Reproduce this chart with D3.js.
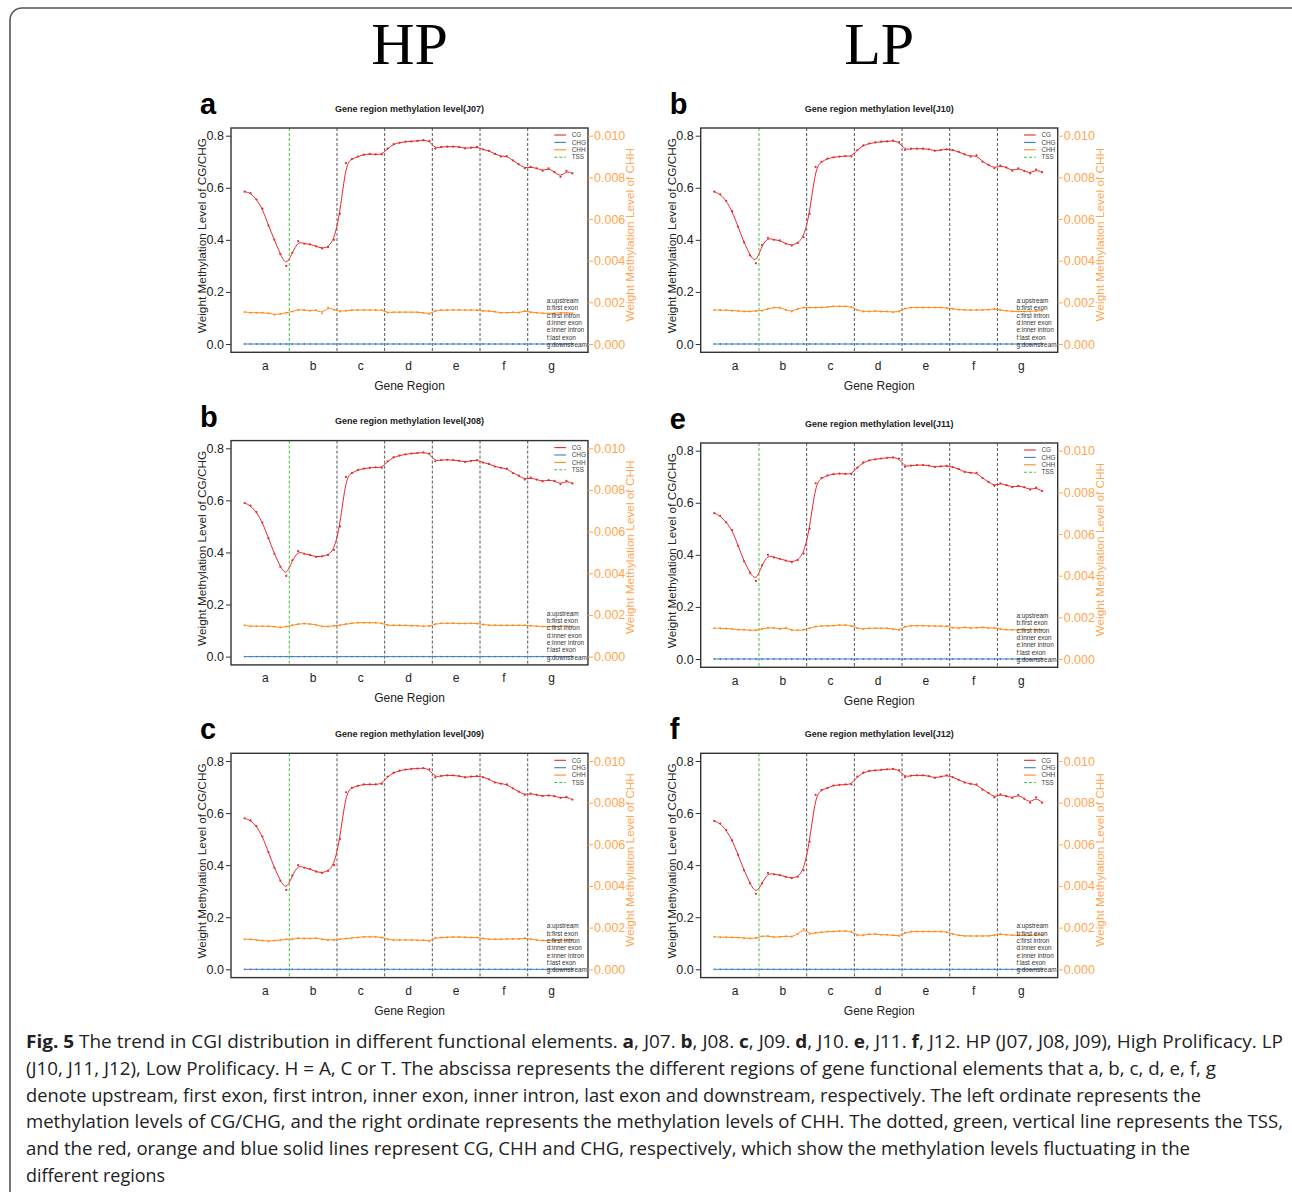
<!DOCTYPE html>
<html>
<head>
<meta charset="utf-8">
<script src="https://cdn.jsdelivr.net/npm/d3@7"></script>
<style>
  body { margin: 0; background: #fff; }
</style>
</head>
<body>
<svg id="fig" width="1292" height="1192"></svg>
<script>
// Region labels and notes
var regions = ["a", "b", "c", "d", "e", "f", "g"];
var regionNotes = ["a:upstream", "b:first exon", "c:first intron", "d:inner exon", "e:inner intron", "f:last exon", "g:downstream"];
var legendNames = ["CG", "CHG", "CHH", "TSS"];
var leftTicks = [0, 0.2, 0.4, 0.6, 0.8];
var rightTicks = [0, 0.002, 0.004, 0.006, 0.008, 0.010];
var groupTitles = ["HP", "LP"];

// CG level, 8 points per region a..g
var cgJ07 = [0.585, 0.58, 0.555, 0.52, 0.455, 0.40, 0.345, 0.30,
  0.35, 0.395, 0.385, 0.383, 0.375, 0.367, 0.372, 0.40,
  0.50, 0.695, 0.71, 0.72, 0.727, 0.73, 0.728, 0.728,
  0.75, 0.768, 0.773, 0.777, 0.778, 0.78, 0.783, 0.78,
  0.75, 0.757, 0.758, 0.758, 0.757, 0.751, 0.754, 0.757,
  0.747, 0.742, 0.73, 0.72, 0.722, 0.705, 0.69, 0.675,
  0.68, 0.675, 0.665, 0.675, 0.66, 0.642, 0.665, 0.655];
var cgJ08 = [0.59, 0.58, 0.555, 0.515, 0.455, 0.395, 0.345, 0.31,
  0.37, 0.405, 0.395, 0.39, 0.383, 0.385, 0.39, 0.41,
  0.50, 0.69, 0.705, 0.717, 0.722, 0.725, 0.727, 0.725,
  0.75, 0.766, 0.772, 0.777, 0.78, 0.782, 0.784, 0.78,
  0.75, 0.755, 0.756, 0.755, 0.752, 0.747, 0.752, 0.755,
  0.745, 0.74, 0.73, 0.725, 0.722, 0.705, 0.695, 0.68,
  0.687, 0.68, 0.673, 0.678, 0.675, 0.662, 0.675, 0.665];
var cgJ09 = [0.58, 0.572, 0.55, 0.51, 0.45, 0.39, 0.34, 0.305,
  0.36, 0.40, 0.39, 0.385, 0.375, 0.37, 0.378, 0.40,
  0.50, 0.68, 0.697, 0.705, 0.71, 0.71, 0.71, 0.712,
  0.74, 0.755, 0.763, 0.767, 0.77, 0.771, 0.773, 0.768,
  0.737, 0.743, 0.745, 0.745, 0.742, 0.737, 0.74, 0.742,
  0.738, 0.73, 0.717, 0.713, 0.71, 0.695, 0.682, 0.67,
  0.675, 0.67, 0.665, 0.668, 0.665, 0.658, 0.662, 0.652];
var cgJ10 = [0.585, 0.575, 0.55, 0.51, 0.45, 0.39, 0.34, 0.31,
  0.38, 0.408, 0.40, 0.398, 0.385, 0.378, 0.388, 0.41,
  0.50, 0.68, 0.70, 0.712, 0.717, 0.72, 0.722, 0.72,
  0.745, 0.763, 0.77, 0.774, 0.777, 0.778, 0.781, 0.775,
  0.745, 0.75, 0.75, 0.75, 0.748, 0.742, 0.745, 0.748,
  0.745, 0.738, 0.728, 0.72, 0.725, 0.70, 0.688, 0.675,
  0.685, 0.678, 0.665, 0.675, 0.665, 0.655, 0.67, 0.66];
var cgJ11 = [0.56, 0.55, 0.525, 0.495, 0.435, 0.375, 0.33, 0.30,
  0.36, 0.40, 0.39, 0.385, 0.378, 0.372, 0.38, 0.405,
  0.50, 0.675, 0.695, 0.705, 0.71, 0.712, 0.711, 0.71,
  0.735, 0.755, 0.763, 0.767, 0.77, 0.773, 0.774, 0.77,
  0.738, 0.743, 0.745, 0.745, 0.743, 0.737, 0.74, 0.742,
  0.737, 0.73, 0.718, 0.715, 0.715, 0.695, 0.68, 0.665,
  0.675, 0.668, 0.66, 0.665, 0.66, 0.65, 0.658, 0.645];
var cgJ12 = [0.57, 0.56, 0.535, 0.495, 0.44, 0.38, 0.33, 0.29,
  0.33, 0.37, 0.365, 0.362, 0.355, 0.35, 0.355, 0.38,
  0.49, 0.67, 0.688, 0.697, 0.706, 0.708, 0.71, 0.71,
  0.74, 0.755, 0.762, 0.764, 0.766, 0.768, 0.77, 0.765,
  0.738, 0.744, 0.745, 0.745, 0.742, 0.735, 0.74, 0.745,
  0.738, 0.728, 0.717, 0.712, 0.71, 0.69, 0.678, 0.66,
  0.672, 0.665, 0.658, 0.67, 0.655, 0.64, 0.66, 0.64];

// CHH level (right axis)
var chhJ07 = [0.00154, 0.0015, 0.0015, 0.0015, 0.00148, 0.00141, 0.00144, 0.0015,
  0.00156, 0.00165, 0.00163, 0.0016, 0.00163, 0.00148, 0.00175, 0.00165,
  0.00156, 0.0016, 0.00163, 0.00163, 0.00163, 0.00163, 0.00163, 0.00163,
  0.0015, 0.00153, 0.00153, 0.00153, 0.00153, 0.00153, 0.0015, 0.00144,
  0.00159, 0.00163, 0.00163, 0.00163, 0.00163, 0.00163, 0.00163, 0.00163,
  0.00159, 0.00158, 0.00155, 0.0015, 0.0015, 0.00153, 0.0015, 0.00159,
  0.00153, 0.0015, 0.00148, 0.00146, 0.00148, 0.0015, 0.0015, 0.00148];
var chhJ08 = [0.0015, 0.00146, 0.00146, 0.00146, 0.00146, 0.00144, 0.0014, 0.00144,
  0.0015, 0.00156, 0.00159, 0.00156, 0.00153, 0.00144, 0.00144, 0.00148,
  0.0015, 0.00156, 0.0016, 0.00163, 0.00163, 0.00163, 0.00163, 0.0016,
  0.0015, 0.0015, 0.0015, 0.0015, 0.00148, 0.00148, 0.00146, 0.00146,
  0.00156, 0.0016, 0.0016, 0.0016, 0.00159, 0.00159, 0.0016, 0.00159,
  0.00154, 0.0015, 0.0015, 0.0015, 0.0015, 0.0015, 0.0015, 0.0015,
  0.00148, 0.00146, 0.00144, 0.00144, 0.00144, 0.00146, 0.00146, 0.00144];
var chhJ09 = [0.00144, 0.00144, 0.00141, 0.00138, 0.00135, 0.00138, 0.0014, 0.00144,
  0.00144, 0.0015, 0.00148, 0.00148, 0.0015, 0.00144, 0.00141, 0.00141,
  0.00144, 0.00148, 0.0015, 0.00153, 0.00156, 0.00156, 0.00156, 0.00153,
  0.00144, 0.0014, 0.00141, 0.00141, 0.00141, 0.0014, 0.0014, 0.00135,
  0.0015, 0.00153, 0.00154, 0.00155, 0.00155, 0.00154, 0.00153, 0.00153,
  0.00148, 0.00144, 0.00144, 0.00144, 0.00146, 0.00146, 0.00146, 0.0015,
  0.00144, 0.00141, 0.00138, 0.00138, 0.00138, 0.0014, 0.0014, 0.00141];
var chhJ10 = [0.00163, 0.00163, 0.00163, 0.0016, 0.00159, 0.00156, 0.00156, 0.00159,
  0.0016, 0.00169, 0.00175, 0.00175, 0.00163, 0.00156, 0.00169, 0.00175,
  0.00175, 0.00175, 0.00175, 0.00178, 0.00181, 0.00181, 0.00181, 0.00178,
  0.00163, 0.00156, 0.00156, 0.00159, 0.00156, 0.00156, 0.00153, 0.00156,
  0.00171, 0.00175, 0.00175, 0.00175, 0.00175, 0.00175, 0.00175, 0.00173,
  0.00169, 0.00165, 0.00163, 0.00163, 0.00163, 0.00163, 0.00165, 0.00169,
  0.00163, 0.0016, 0.00156, 0.00156, 0.00156, 0.00156, 0.00159, 0.0016];
var chhJ11 = [0.00148, 0.00148, 0.00146, 0.00144, 0.00141, 0.0014, 0.00138, 0.00138,
  0.00144, 0.0015, 0.0015, 0.00144, 0.0015, 0.00138, 0.00138, 0.0014,
  0.00148, 0.00156, 0.00159, 0.00159, 0.0016, 0.00163, 0.00163, 0.0016,
  0.00148, 0.00144, 0.00148, 0.00148, 0.00148, 0.00148, 0.00144, 0.00138,
  0.00156, 0.0016, 0.0016, 0.0016, 0.00159, 0.00158, 0.00158, 0.00158,
  0.0015, 0.00148, 0.00153, 0.00148, 0.0015, 0.00153, 0.00148, 0.0015,
  0.00144, 0.0014, 0.0014, 0.0014, 0.00141, 0.00141, 0.00141, 0.00141];
var chhJ12 = [0.00156, 0.00154, 0.00154, 0.00153, 0.00153, 0.0015, 0.00148, 0.0015,
  0.00159, 0.0016, 0.00154, 0.00156, 0.00159, 0.00156, 0.00169, 0.00194,
  0.00169, 0.00175, 0.00178, 0.00181, 0.00181, 0.00184, 0.00184, 0.00181,
  0.00163, 0.00163, 0.00169, 0.00169, 0.00166, 0.00166, 0.00163, 0.0016,
  0.00175, 0.00181, 0.00181, 0.00181, 0.00181, 0.00181, 0.00181, 0.00179,
  0.00169, 0.00163, 0.0016, 0.0016, 0.0016, 0.0016, 0.0016, 0.00163,
  0.00169, 0.00166, 0.00163, 0.00163, 0.00163, 0.00163, 0.00165, 0.00166];

// CHG level sits on the zero line in every sample
var chgLevel = [0, 0, 0, 0, 0, 0, 0, 0,
  0, 0, 0, 0, 0, 0, 0, 0,
  0, 0, 0, 0, 0, 0, 0, 0,
  0, 0, 0, 0, 0, 0, 0, 0,
  0, 0, 0, 0, 0, 0, 0, 0,
  0, 0, 0, 0, 0, 0, 0, 0,
  0, 0, 0, 0, 0, 0, 0, 0];

var panels = [
  { id: "J07", letter: "a", cg: cgJ07, chh: chhJ07, col: 0, row: 0 },
  { id: "J10", letter: "b", cg: cgJ10, chh: chhJ10, col: 1, row: 0 },
  { id: "J08", letter: "b", cg: cgJ08, chh: chhJ08, col: 0, row: 1 },
  { id: "J11", letter: "e", cg: cgJ11, chh: chhJ11, col: 1, row: 1 },
  { id: "J09", letter: "c", cg: cgJ09, chh: chhJ09, col: 0, row: 2 },
  { id: "J12", letter: "f", cg: cgJ12, chh: chhJ12, col: 1, row: 2 }
];

// Caption lines: [text, bold]
var caption = [
  [["Fig. 5", 1], [" The trend in CGI distribution in different functional elements. ", 0], ["a", 1], [", J07. ", 0], ["b", 1], [", J08. ", 0], ["c", 1], [", J09. ", 0], ["d", 1], [", J10. ", 0], ["e", 1], [", J11. ", 0], ["f", 1], [", J12. HP (J07, J08, J09), High Prolificacy. LP", 0]],
  [["(J10, J11, J12), Low Prolificacy. H = A, C or T. The abscissa represents the different regions of gene functional elements that a, b, c, d, e, f, g", 0]],
  [["denote upstream, first exon, first intron, inner exon, inner intron, last exon and downstream, respectively. The left ordinate represents the", 0]],
  [["methylation levels of CG/CHG, and the right ordinate represents the methylation levels of CHH. The dotted, green, vertical line represents the TSS,", 0]],
  [["and the red, orange and blue solid lines represent CG, CHH and CHG, respectively, which show the methylation levels fluctuating in the", 0]],
  [["different regions", 0]]
];
var captionWidths = [1257, 1190, 1175, 1257, 1164, 139];

// Layout
var colLeft = [231, 700.7];
var rowTop = [135.7, 448.3, 761];
var boxW = 357;
var plotH = 208.3;
var fontAxis = "'Liberation Sans', Arial, sans-serif";

var cgColor = "#e8282b";
var chgColor = "#3d7cc9";
var chhColor = "#ff8a1f";
var chhAxisColor = "#ffa650";
var tssColor = "#3ec43e";
var legendColors = [cgColor, chgColor, chhColor, tssColor];

var svg = d3.select("#fig");

// Outer rounded frame
svg.append("rect")
  .attr("x", 10).attr("y", 8)
  .attr("width", 1300).attr("height", 1220)
  .attr("rx", 12)
  .attr("fill", "none")
  .attr("stroke", "#555")
  .attr("stroke-width", 1.6);

// HP / LP headings
svg.selectAll(".group-title")
  .data(groupTitles)
  .enter()
  .append("text")
  .attr("class", "group-title")
  .attr("x", function (d, i) { return colLeft[i] + 178.5; })
  .attr("y", 64)
  .attr("text-anchor", "middle")
  .attr("font-family", "'Liberation Serif', 'Times New Roman', serif")
  .attr("font-size", 60)
  .attr("fill", "#000")
  .text(function (d) { return d; });

panels.forEach(function (p) {
  var left = colLeft[p.col];
  var top = rowTop[p.row] + (p.row === 1 && p.col === 1 ? 2.4 : 0);
  var g = svg.append("g").attr("transform", "translate(" + left + "," + top + ")");

  var x = d3.scaleLinear().domain([0, 7]).range([10.6, 344.4]);
  var yL = d3.scaleLinear().domain([0, 0.8]).range([plotH, 0]);
  var yR = d3.scaleLinear().domain([0, 0.010]).range([plotH, 0]);

  function px(d, i) {
    return x(Math.floor(i / 8) + ((i % 8) + 0.5) / 8);
  }

  // panel letter and title
  g.append("text")
    .attr("x", -31).attr("y", -21.7)
    .attr("font-family", fontAxis).attr("font-weight", "bold")
    .attr("font-size", 29)
    .text(p.letter);
  g.append("text")
    .attr("x", boxW / 2).attr("y", -24)
    .attr("text-anchor", "middle")
    .attr("font-family", fontAxis).attr("font-weight", "bold")
    .attr("font-size", 9)
    .attr("fill", "#222")
    .text("Gene region methylation level(" + p.id + ")");

  // region dividers
  g.selectAll(".divider")
    .data(d3.range(1, 7))
    .enter()
    .append("line")
    .attr("class", "divider")
    .attr("x1", function (d) { return x(d); })
    .attr("x2", function (d) { return x(d); })
    .attr("y1", -7.7).attr("y2", plotH + 8.3)
    .attr("stroke", function (d) { return d === 1 ? tssColor : "#555"; })
    .attr("stroke-width", 1)
    .attr("stroke-dasharray", "3,2");

  // CHG
  g.append("path")
    .datum(chgLevel)
    .attr("fill", "none")
    .attr("stroke", chgColor)
    .attr("stroke-width", 1)
    .attr("d", d3.line().x(px).y(function (d) { return yR(d); }));
  g.selectAll(".chg-dot")
    .data(chgLevel)
    .enter()
    .append("circle")
    .attr("class", "chg-dot")
    .attr("cx", px).attr("cy", function (d) { return yR(d); })
    .attr("r", 0.9).attr("fill", chgColor);

  // CHH
  g.append("path")
    .datum(p.chh)
    .attr("fill", "none")
    .attr("stroke", chhColor)
    .attr("stroke-width", 1)
    .attr("d", d3.line().x(px).y(function (d) { return yR(d); }).curve(d3.curveBasis));
  g.selectAll(".chh-dot")
    .data(p.chh)
    .enter()
    .append("circle")
    .attr("class", "chh-dot")
    .attr("cx", px).attr("cy", function (d) { return yR(d); })
    .attr("r", 1).attr("fill", chhColor);

  // CG
  g.append("path")
    .datum(p.cg)
    .attr("fill", "none")
    .attr("stroke", cgColor)
    .attr("stroke-width", 1)
    .attr("d", d3.line().x(px).y(function (d) { return yL(d); }).curve(d3.curveBasis));
  g.selectAll(".cg-dot")
    .data(p.cg)
    .enter()
    .append("circle")
    .attr("class", "cg-dot")
    .attr("cx", px).attr("cy", function (d) { return yL(d); })
    .attr("r", 1.1).attr("fill", cgColor);

  // box
  g.append("rect")
    .attr("x", 0).attr("y", -7.7)
    .attr("width", boxW).attr("height", plotH + 16)
    .attr("fill", "none")
    .attr("stroke", "#333")
    .attr("stroke-width", 1.4);

  // left axis
  var la = g.append("g")
    .call(d3.axisLeft(yL).tickValues(leftTicks).tickFormat(d3.format(".1f")).tickSize(5).tickPadding(2));
  la.select(".domain").remove();
  la.selectAll("line").attr("stroke", "#333");
  la.selectAll("text").attr("font-family", fontAxis).attr("font-size", 12.5).attr("fill", "#222");

  // right axis
  var ra = g.append("g")
    .attr("transform", "translate(" + boxW + ",0)")
    .call(d3.axisRight(yR).tickValues(rightTicks).tickFormat(d3.format(".3f")).tickSize(5).tickPadding(1));
  ra.select(".domain").remove();
  ra.selectAll("line").attr("stroke", chhAxisColor);
  ra.selectAll("text").attr("font-family", fontAxis).attr("font-size", 12.5).attr("fill", chhAxisColor);

  // region labels
  g.selectAll(".region-label")
    .data(regions)
    .enter()
    .append("text")
    .attr("class", "region-label")
    .attr("x", function (d, i) { return x(i + 0.5); })
    .attr("y", 234)
    .attr("text-anchor", "middle")
    .attr("font-family", fontAxis).attr("font-size", 12)
    .attr("fill", "#222")
    .text(function (d) { return d; });

  g.append("text")
    .attr("x", boxW / 2).attr("y", 254)
    .attr("text-anchor", "middle")
    .attr("font-family", fontAxis).attr("font-size", 12)
    .attr("fill", "#222")
    .text("Gene Region");

  // axis titles
  g.append("text")
    .attr("transform", "translate(-28.7,100) rotate(-90)")
    .attr("text-anchor", "middle")
    .attr("dy", "0.35em")
    .attr("font-family", fontAxis).attr("font-size", 11.8)
    .attr("fill", "#222")
    .text("Weight Methylation Level of CG/CHG");
  g.append("text")
    .attr("transform", "translate(399,99) rotate(-90)")
    .attr("text-anchor", "middle")
    .attr("dy", "0.35em")
    .attr("font-family", fontAxis).attr("font-size", 11.8)
    .attr("fill", chhAxisColor)
    .text("Weight Methylation Level of CHH");

  // series legend
  var lg = g.selectAll(".legend")
    .data(legendNames)
    .enter()
    .append("g")
    .attr("class", "legend")
    .attr("transform", function (d, i) { return "translate(323.3," + (-0.7 + i * 7.4) + ")"; });
  lg.append("line")
    .attr("x1", 0).attr("x2", 11.7)
    .attr("stroke", function (d) { return legendColors[legendNames.indexOf(d)]; })
    .attr("stroke-width", 1.1)
    .attr("stroke-dasharray", function (d) { return d === "TSS" ? "3,2" : null; });
  lg.append("text")
    .attr("x", 17.4).attr("dy", "0.35em")
    .attr("font-family", fontAxis).attr("font-size", 6.4)
    .attr("fill", "#444")
    .text(function (d) { return d; });

  // region notes
  g.selectAll(".note")
    .data(regionNotes)
    .enter()
    .append("text")
    .attr("class", "note")
    .attr("x", 315.7)
    .attr("y", function (d, i) { return 165 + i * 7.33; })
    .attr("dy", "0.35em")
    .attr("font-family", fontAxis).attr("font-size", 6.4)
    .attr("fill", "#333")
    .text(function (d) { return d; });
});

// Caption
var cap = svg.selectAll(".caption")
  .data(caption)
  .enter()
  .append("text")
  .attr("class", "caption")
  .attr("x", 26)
  .attr("y", function (d, i) { return 1048 + i * 26.8; })
  .attr("font-family", "'Open Sans', 'Noto Sans', sans-serif")
  .attr("font-size", 18)
  .attr("fill", "#222")
  .attr("textLength", function (d, i) { return captionWidths[i]; })
  .attr("lengthAdjust", "spacingAndGlyphs");
cap.selectAll("tspan")
  .data(function (d) { return d; })
  .enter()
  .append("tspan")
  .attr("font-weight", function (d) { return d[1] ? "bold" : null; })
  .text(function (d) { return d[0]; });
</script>
</body>
</html>
